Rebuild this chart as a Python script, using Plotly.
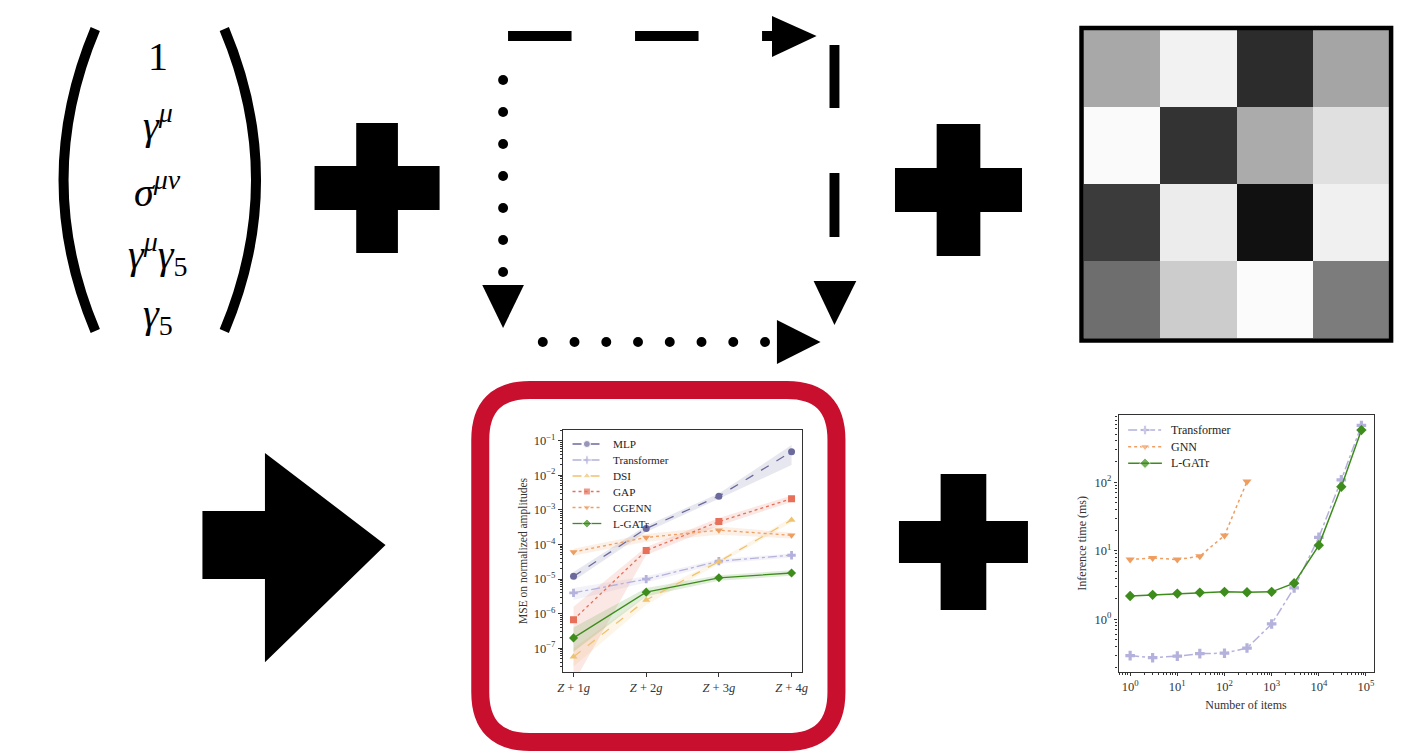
import plotly.graph_objects as go

W, H = 1409, 756
def X(p): return p / W
def Y(p): return 1 - p / H
def path(points, close=True):
    s = "M " + " L ".join(f"{X(a):.5f},{Y(b):.5f}" for a, b in points)
    return s + (" Z" if close else "")

SERIF = "Liberation Serif"

# ---------------- data: MSE chart ----------------
processes = ["<i>Z</i> + 1<i>g</i>", "<i>Z</i> + 2<i>g</i>", "<i>Z</i> + 3<i>g</i>", "<i>Z</i> + 4<i>g</i>"]
mse_mlp = [1.2e-5, 2.9e-4, 2.5e-3, 4.8e-2]
mse_mlp_lo = [9e-6, 2.3e-4, 2.1e-3, 2.0e-2]
mse_mlp_hi = [1.6e-5, 3.5e-4, 3.0e-3, 7.5e-2]
mse_transformer = [4.0e-6, 1.0e-5, 3.3e-5, 4.9e-5]
mse_transformer_lo = [2.5e-6, 8e-6, 2.8e-5, 4.2e-5]
mse_transformer_hi = [5.5e-6, 1.2e-5, 3.8e-5, 5.5e-5]
mse_dsi = [5.7e-8, 2.5e-6, 3.2e-5, 5.1e-4]
mse_dsi_lo = [3e-8, 1.8e-6, 2.8e-5, 4.3e-4]
mse_dsi_hi = [1e-7, 3.3e-6, 3.6e-5, 6e-4]
mse_gap = [6.7e-7, 6.7e-5, 4.6e-4, 2.1e-3]
mse_gap_lo = [1e-8, 5e-5, 3.5e-4, 1.7e-3]
mse_gap_hi = [1.6e-6, 8.5e-5, 5.8e-4, 2.6e-3]
mse_cgenn = [6.1e-5, 1.6e-4, 2.6e-4, 1.85e-4]
mse_cgenn_lo = [4.8e-5, 1.2e-4, 1.9e-4, 1.5e-4]
mse_cgenn_hi = [7.5e-5, 2.0e-4, 3.3e-4, 2.2e-4]
mse_lgatr = [2.0e-7, 4.2e-6, 1.09e-5, 1.5e-5]
mse_lgatr_lo = [8e-8, 3.2e-6, 9e-6, 1.25e-5]
mse_lgatr_hi = [4e-7, 5.5e-6, 1.3e-5, 1.8e-5]
mse_tickvals = [1e-7, 1e-6, 1e-5, 1e-4, 1e-3, 1e-2, 1e-1]
mse_ticktext = ["10<sup>−7</sup>", "10<sup>−6</sup>", "10<sup>−5</sup>", "10<sup>−4</sup>",
                "10<sup>−3</sup>", "10<sup>−2</sup>", "10<sup>−1</sup>"]

# ---------------- data: timing chart ----------------
n_items = [1, 3, 10, 30, 100, 300, 1000, 3000, 10000, 30000, 80000]
t_transformer = [0.295, 0.275, 0.29, 0.315, 0.32, 0.38, 0.855, 2.87, 15.7, 108, 672]
n_items_gnn = [1, 3, 10, 30, 100, 300]
t_gnn = [7.43, 7.86, 7.43, 8.3, 16.7, 102]
t_lgatr = [2.19, 2.27, 2.37, 2.45, 2.51, 2.48, 2.51, 3.36, 12.0, 85.6, 575]
items_tickvals = [1, 10, 100, 1000, 10000, 100000]
items_ticktext = ["10<sup>0</sup>", "10<sup>1</sup>", "10<sup>2</sup>", "10<sup>3</sup>",
                  "10<sup>4</sup>", "10<sup>5</sup>"]
time_tickvals = [1, 10, 100]
time_ticktext = ["10<sup>0</sup>", "10<sup>1</sup>", "10<sup>2</sup>"]

# ---------------- data: grayscale matrix (0=black, 255=white) ----------------
gray_matrix = [
    [168, 242, 44, 165],
    [250, 51, 171, 224],
    [59, 236, 17, 240],
    [110, 204, 251, 124],
]

# ---------------- text of the Clifford basis ----------------
basis_rows = ["1", "<i>γ</i><sup><i>μ</i></sup>", "<i>σ</i><sup><i>μν</i></sup>",
              "<i>γ</i><sup><i>μ</i></sup><i>γ</i><sub>5</sub>", "<i>γ</i><sub>5</sub>"]

C_MLP = "#6c6a9c"
C_TR = "#b4b1dc"
C_DSI = "#efc36e"
C_GAP = "#e6705a"
C_CG = "#ee9e60"
C_LG = "#3d8c1c"

def rgba(hexc, a):
    h = hexc.lstrip("#")
    r, g, b = int(h[0:2], 16), int(h[2:4], 16), int(h[4:6], 16)
    return f"rgba({r},{g},{b},{a})"

fig = go.Figure()

series = [
    ("MLP", mse_mlp, mse_mlp_lo, mse_mlp_hi, C_MLP, "dash", "circle"),
    ("Transformer", mse_transformer, mse_transformer_lo, mse_transformer_hi, C_TR, "dashdot", "cross"),
    ("DSI", mse_dsi, mse_dsi_lo, mse_dsi_hi, C_DSI, "dash", "triangle-up"),
    ("GAP", mse_gap, mse_gap_lo, mse_gap_hi, C_GAP, "dot", "square"),
    ("CGENN", mse_cgenn, mse_cgenn_lo, mse_cgenn_hi, C_CG, "dot", "triangle-down"),
    ("L-GATr", mse_lgatr, mse_lgatr_lo, mse_lgatr_hi, C_LG, "solid", "diamond"),
]
for name, v, lo, hi, c, dash, sym in series:
    fig.add_trace(go.Scatter(x=processes, y=hi, mode="lines", line=dict(width=0, color=c),
                             showlegend=False, hoverinfo="skip", xaxis="x", yaxis="y"))
    fig.add_trace(go.Scatter(x=processes, y=lo, mode="lines", line=dict(width=0, color=c),
                             fill="tonexty", fillcolor=rgba(c, 0.16), showlegend=False,
                             hoverinfo="skip", xaxis="x", yaxis="y"))
for name, v, lo, hi, c, dash, sym in series:
    fig.add_trace(go.Scatter(x=processes, y=v, name=name, mode="lines+markers",
                             line=dict(color=c, width=1.3, dash=dash),
                             marker=dict(symbol=sym, size=7, color=c),
                             xaxis="x", yaxis="y", showlegend=False))

timing = [
    ("Transformer", n_items, t_transformer, C_TR, "dashdot", "cross"),
    ("GNN", n_items_gnn, t_gnn, C_CG, "dot", "triangle-down"),
    ("L-GATr", n_items, t_lgatr, C_LG, "solid", "diamond"),
]
for name, xs, ys, c, dash, sym in timing:
    fig.add_trace(go.Scatter(x=xs, y=ys, name=name, mode="lines+markers",
                             line=dict(color=c, width=1.5, dash=dash),
                             marker=dict(symbol=sym, size=8, color=c),
                             xaxis="x2", yaxis="y2", showlegend=False))

fig.add_trace(go.Heatmap(z=gray_matrix, colorscale=[[0, "black"], [1, "white"]],
                         zmin=0, zmax=255, showscale=False, xaxis="x3", yaxis="y3",
                         hoverinfo="skip"))

annotations = []

# ---- hand-built legends (drawn on a pixel-space overlay axis) ----
def legend_block(entries, x0, x1, ys, text_x, fsize, lw, msize):
    for (name, c, dash, sym), yy in zip(entries, ys):
        fig.add_trace(go.Scatter(x=[x0, (x0 + x1) / 2, x1], y=[yy, yy, yy],
                                 mode="lines+markers",
                                 line=dict(color=c, width=lw, dash=dash),
                                 marker=dict(symbol=sym, size=[0, msize, 0], color=c),
                                 xaxis="x4", yaxis="y4", showlegend=False, hoverinfo="skip"))
        annotations.append(dict(text=name, x=X(text_x), y=Y(yy), xref="paper", yref="paper",
                                showarrow=False, xanchor="left", yanchor="middle",
                                font=dict(family=SERIF, size=fsize, color="#222")))

legend_block([(s[0], s[4], s[5], s[6]) for s in series], 572, 601,
             [444, 460, 476, 491.5, 507.5, 523.5], 611, 11.2, 1.3, 7)
legend_block([(t[0], t[3], t[4], t[5]) for t in timing], 1132, 1166,
             [430, 446.7, 463.3], 1173, 12, 1.5, 8)

shapes = []
# parentheses
shapes.append(dict(type="path", xref="paper", yref="paper",
                   path=f"M {X(91)},{Y(29)} Q {X(27)},{Y(180)} {X(91)},{Y(331)}",
                   line=dict(color="black", width=10)))
shapes.append(dict(type="path", xref="paper", yref="paper",
                   path=f"M {X(221)},{Y(29)} Q {X(285)},{Y(180)} {X(221)},{Y(331)}",
                   line=dict(color="black", width=10)))

def plus(cx, cy, hw, hh, tw, th):
    pts = [(cx - tw, cy - hh), (cx + tw, cy - hh), (cx + tw, cy - th), (cx + hw, cy - th),
           (cx + hw, cy + th), (cx + tw, cy + th), (cx + tw, cy + hh), (cx - tw, cy + hh),
           (cx - tw, cy + th), (cx - hw, cy + th), (cx - hw, cy - th), (cx - tw, cy - th)]
    return dict(type="path", xref="paper", yref="paper", path=path(pts),
                fillcolor="black", line=dict(color="black", width=2))

shapes.append(plus(375, 188, 62, 64, 20, 21))
shapes.append(plus(961, 190, 63, 65, 21, 21))
shapes.append(plus(966, 542, 64, 67, 22, 20))

# big arrow
shapes.append(dict(type="path", xref="paper", yref="paper",
                   path=path([(200, 512), (263, 512), (263, 455), (382, 545), (263, 660),
                              (263, 578), (200, 578)]),
                   fillcolor="black", line=dict(color="black", width=2)))

# dashed arrow (top + right)
for x0, x1 in [(507, 571), (635, 699), (763, 776)]:
    shapes.append(dict(type="rect", xref="paper", yref="paper", x0=X(x0), x1=X(x1),
                       y0=Y(41), y1=Y(31), fillcolor="black", line=dict(width=0)))
shapes.append(dict(type="path", xref="paper", yref="paper",
                   path=path([(773, 16), (818, 36), (773, 57)]), fillcolor="black",
                   line=dict(width=0)))
for y0, y1 in [(45, 108), (173, 237)]:
    shapes.append(dict(type="rect", xref="paper", yref="paper", x0=X(831), x1=X(841),
                       y0=Y(y1), y1=Y(y0), fillcolor="black", line=dict(width=0)))
shapes.append(dict(type="path", xref="paper", yref="paper",
                   path=path([(815, 281), (858, 281), (836, 325)]), fillcolor="black",
                   line=dict(width=0)))
# dotted arrow (left + bottom)
for k in range(7):
    cy = 80 + 32 * k
    shapes.append(dict(type="circle", xref="paper", yref="paper", x0=X(497), x1=X(507),
                       y0=Y(cy + 5), y1=Y(cy - 5), fillcolor="black", line=dict(width=0)))
shapes.append(dict(type="path", xref="paper", yref="paper",
                   path=path([(481, 285), (523, 285), (502, 328)]), fillcolor="black",
                   line=dict(width=0)))
for k in range(8):
    cx = 542 + 32 * k
    shapes.append(dict(type="circle", xref="paper", yref="paper", x0=X(cx - 5), x1=X(cx + 5),
                       y0=Y(347), y1=Y(337), fillcolor="black", line=dict(width=0)))
shapes.append(dict(type="path", xref="paper", yref="paper",
                   path=path([(778, 320), (822, 342), (778, 364)]), fillcolor="black",
                   line=dict(width=0)))

# red rounded box
r = 50
L, R, T, B = 479, 838, 390, 742
box = (f"M {X(L+r)},{Y(T)} L {X(R-r)},{Y(T)} Q {X(R)},{Y(T)} {X(R)},{Y(T+r)} "
       f"L {X(R)},{Y(B-r)} Q {X(R)},{Y(B)} {X(R-r)},{Y(B)} L {X(L+r)},{Y(B)} "
       f"Q {X(L)},{Y(B)} {X(L)},{Y(B-r)} L {X(L)},{Y(T+r)} Q {X(L)},{Y(T)} {X(L+r)},{Y(T)} Z")
shapes.append(dict(type="path", xref="paper", yref="paper", path=box,
                   line=dict(color="#c8102e", width=18)))

# heatmap border
shapes.append(dict(type="rect", xref="paper", yref="paper", x0=X(1085), x1=X(1397),
                   y0=Y(340.5), y1=Y(28), line=dict(color="black", width=4.5)))

for t, cy in zip(basis_rows, [57, 122, 189, 254, 316]):
    annotations.append(dict(text=t, x=X(154), y=Y(cy), xref="paper", yref="paper",
                            showarrow=False, xanchor="center", yanchor="middle",
                            font=dict(family=SERIF, size=40, color="black")))

axis_common = dict(showline=True, mirror=True, linecolor="#333", linewidth=1.2,
                   ticks="outside", ticklen=3.5, tickcolor="#333", showgrid=False,
                   zeroline=False, tickfont=dict(family=SERIF, size=12.5, color="#333"))
minor_log = dict(ticks="outside", ticklen=2, tickcolor="#333", dtick="D1")

fig.update_layout(
    width=W, height=H, margin=dict(l=0, r=0, t=0, b=0),
    paper_bgcolor="white", plot_bgcolor="rgba(0,0,0,0)",
    showlegend=False,
    xaxis=dict(domain=[X(562), X(803)], anchor="y", type="category",
               range=[-0.15, 3.14], **axis_common),
    yaxis=dict(domain=[Y(672), Y(430)], anchor="x", type="log", range=[-7.685, -0.69],
               tickvals=mse_tickvals, ticktext=mse_ticktext, minor=minor_log,
               title=dict(text="MSE on normalized amplitudes", standoff=3,
                          font=dict(family=SERIF, size=11.5, color="#333")),
               **axis_common),
    xaxis2=dict(domain=[X(1122.3), X(1379.3)], anchor="y2", type="log", range=[-0.246, 5.16],
                tickvals=items_tickvals, ticktext=items_ticktext, minor=minor_log,
                title=dict(text="Number of items", standoff=7,
                           font=dict(family=SERIF, size=12, color="#333")),
                **axis_common),
    yaxis2=dict(domain=[Y(671.7), Y(415)], anchor="x2", type="log", range=[-0.765, 2.98],
                tickvals=time_tickvals, ticktext=time_ticktext, minor=minor_log,
                title=dict(text="Inference time (ms)", standoff=5,
                           font=dict(family=SERIF, size=12, color="#333")),
                **axis_common),
    xaxis3=dict(domain=[X(1087), X(1395)], anchor="y3", showticklabels=False, ticks="",
                showgrid=False, zeroline=False, showline=False, range=[-0.5, 3.5]),
    yaxis3=dict(domain=[Y(338), Y(30)], anchor="x3", showticklabels=False, ticks="",
                showgrid=False, zeroline=False, showline=False, range=[3.5, -0.5]),
    xaxis4=dict(domain=[0, 1], anchor="y4", range=[0, W], visible=False, fixedrange=True),
    yaxis4=dict(domain=[0, 1], anchor="x4", range=[H, 0], visible=False, fixedrange=True),
    shapes=shapes, annotations=annotations,
)

fig.write_html("out.html", config={"displayModeBar": False},
               post_script="document.body.style.margin='0';")
